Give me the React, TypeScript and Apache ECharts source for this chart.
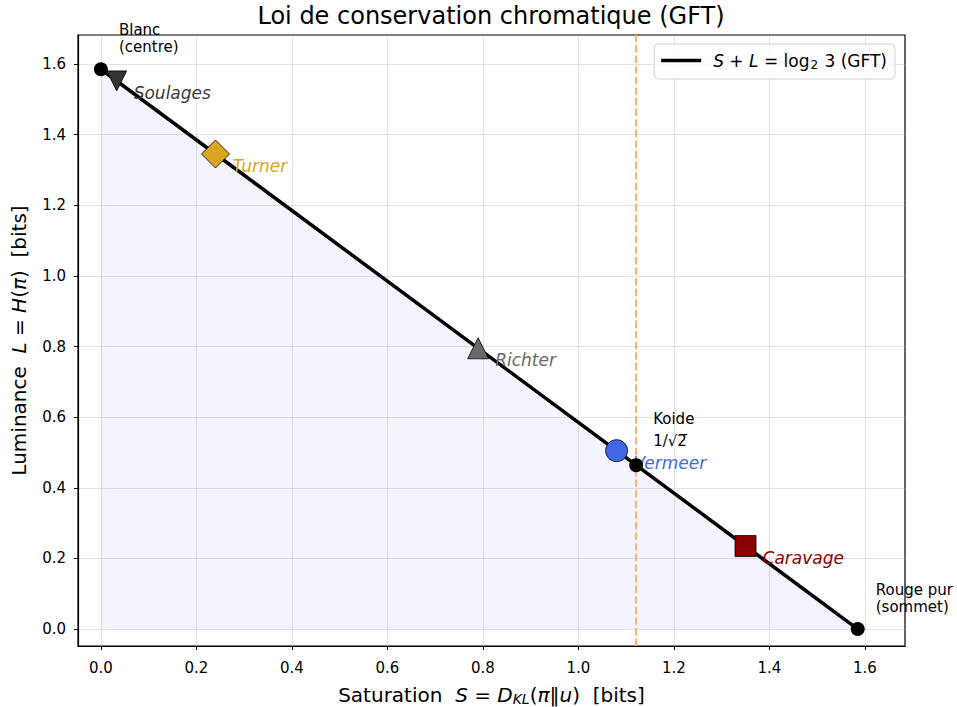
import React, { useEffect, useRef } from 'react';
import * as echarts from 'echarts';

// GFT conservation line: S + L = log2(3)
const lineS = [0, 1.585];
const lineL = [1.585, 0];

// painters on the line
const painters = ['Soulages', 'Turner', 'Richter', 'Vermeer', 'Caravage'];
const painterS = [0.033, 0.24, 0.79, 1.08, 1.35];
const painterL = [1.552, 1.345, 0.795, 0.505, 0.235];

// reference points
const refNames = ['Blanc\n(centre)', 'Koide\n1/√2̅', 'Rouge pur\n(sommet)'];
const refS = [0, 1.121, 1.585];
const refL = [1.585, 0.464, 0];

// Koide vertical marker
const koideS = 1.121;

// tick values
const xTicks = [0, 0.2, 0.4, 0.6, 0.8, 1.0, 1.2, 1.4, 1.6];
const yTicks = [0, 0.2, 0.4, 0.6, 0.8, 1.0, 1.2, 1.4, 1.6];

const FONT = '"DejaVu Sans", sans-serif';

const painterStyle: Record<string, any> = {
  Soulages: { symbol: 'triangle', rotate: 180, size: 20, color: '#333333', text: '#3a3a3a' },
  Turner: { symbol: 'diamond', rotate: 0, size: 28, color: '#DAA520', text: '#DAA520' },
  Richter: { symbol: 'triangle', rotate: 0, size: 21, color: '#696969', text: '#696969' },
  Vermeer: { symbol: 'circle', rotate: 0, size: 22, color: '#4169E1', text: '#4169E1' },
  Caravage: { symbol: 'rect', rotate: 0, size: 21, color: '#8B0000', text: '#8B0000' },
};

const refOffsets = [
  [18, -31],
  [17, -35],
  [18, -31],
];
const refLineHeights = [17, 22, 17];

const LEGEND_NAME = 'GFT';

export default function App() {
  const ref = useRef<HTMLDivElement>(null);
  useEffect(() => {
    document.body.style.margin = '0';
    const chart = echarts.init(ref.current!, null, { renderer: 'svg' });

    const axisCommon = (ticks: number[], margin: number) => ({
      type: 'value' as const,
      axisLine: { show: true, onZero: false, lineStyle: { color: '#000', width: 1.2 } },
      axisTick: {
        show: true,
        inside: false,
        length: 4,
        customValues: ticks,
        lineStyle: { color: '#000', width: 1 },
      },
      axisLabel: {
        show: true,
        customValues: ticks,
        formatter: (v: number) => v.toFixed(1),
        fontFamily: FONT,
        fontSize: 15,
        color: '#000',
        margin,
      },
      splitLine: { show: true, lineStyle: { color: '#b0b0b0', opacity: 0.35, width: 1 } },
      nameLocation: 'middle' as const,
    });

    chart.setOption({
      animation: false,
      backgroundColor: '#fff',
      textStyle: { fontFamily: FONT },
      graphic: [
        {
          type: 'text',
          x: 491,
          y: 16,
          style: {
            text: 'Loi de conservation chromatique (GFT)',
            textAlign: 'center',
            textVerticalAlign: 'middle',
            font: '24px "DejaVu Sans", sans-serif',
            fill: '#000',
          },
        },
      ],
      grid: {
        left: 78,
        top: 35,
        right: 52,
        bottom: 61,
        show: true,
        outerBoundsMode: 'none',
        containLabel: false,
        borderColor: '#000',
        borderWidth: 1.2,
        backgroundColor: 'transparent',
      },
      legend: {
        data: [{ name: LEGEND_NAME, icon: 'rect' }],
        right: 62,
        top: 44,
        orient: 'vertical',
        itemWidth: 40,
        itemHeight: 3.5,
        padding: [8, 8, 8, 7],
        backgroundColor: 'rgba(255,255,255,0.85)',
        borderColor: '#d0d0d0',
        borderWidth: 1,
        borderRadius: 4,
        formatter: () => '{i|S} + {i|L} = log{sub|2} 3 (GFT)',
        textStyle: {
          fontFamily: FONT,
          fontSize: 17,
          color: '#000',
          padding: [0, 0, 0, 7],
          rich: {
            i: { fontStyle: 'italic', fontSize: 17, fontFamily: FONT },
            sub: { fontSize: 12, fontFamily: FONT, padding: [9, 1, 0, 1] },
          },
        },
      },
      xAxis: {
        ...axisCommon(xTicks, 14),
        min: -0.048,
        max: 1.684,
        name: 'Saturation  {i|S} = {i|D}{sub|KL}({i|π}‖{i|u})  [bits]',
        nameGap: 37,
        nameTextStyle: {
          fontFamily: FONT,
          fontSize: 20,
          color: '#000',
          rich: {
            i: { fontStyle: 'italic', fontSize: 20, fontFamily: FONT },
            sub: { fontStyle: 'italic', fontSize: 14, fontFamily: FONT, padding: [9, 0, 0, 0] },
          },
        },
      },
      yAxis: {
        ...axisCommon(yTicks, 12),
        min: -0.048,
        max: 1.682,
        name: 'Luminance  {i|L} = {i|H}({i|π})  [bits]',
        nameGap: 49,
        nameTextStyle: {
          fontFamily: FONT,
          fontSize: 20,
          color: '#000',
          rich: {
            i: { fontStyle: 'italic', fontSize: 20, fontFamily: FONT },
          },
        },
      },
      series: [
        {
          type: 'line',
          name: 'koide-marker',
          data: [],
          z: 1,
          markLine: {
            silent: true,
            symbol: 'none',
            label: { show: false },
            lineStyle: { color: '#ffb26e', type: [7.4, 3.2], width: 2 },
            data: [{ xAxis: koideS }],
          },
        },
        {
          type: 'line',
          name: LEGEND_NAME,
          data: lineS.map((s, i) => [s, lineL[i]]),
          showSymbol: false,
          symbol: 'none',
          lineStyle: { color: '#000', width: 3.5 },
          itemStyle: { color: '#000' },
          areaStyle: { color: 'rgba(0,0,255,0.06)' },
          z: 2,
        },
        {
          type: 'scatter',
          name: 'painters',
          z: 4,
          data: painters.map((p, i) => {
            const st = painterStyle[p];
            return {
              value: [painterS[i], painterL[i]],
              name: p,
              symbol: st.symbol,
              symbolRotate: st.rotate,
              symbolSize: st.size,
              itemStyle: { color: st.color, borderColor: '#000', borderWidth: 0.8, opacity: 1 },
              label: {
                show: true,
                formatter: p,
                position: ['50%', '50%'],
                align: 'left',
                verticalAlign: 'middle',
                offset: [17, 12],
                color: st.text,
                opacity: 1,
                fontStyle: 'italic',
                fontSize: 17,
                fontFamily: FONT,
              },
            };
          }),
        },
        {
          type: 'scatter',
          name: 'refs',
          z: 5,
          symbolSize: 14,
          itemStyle: { color: '#000', opacity: 1 },
          data: refNames.map((n, i) => ({
            value: [refS[i], refL[i]],
            name: n,
            label: {
              show: true,
              formatter: n,
              position: ['50%', '50%'],
              align: 'left',
              verticalAlign: 'middle',
              offset: refOffsets[i],
              lineHeight: refLineHeights[i],
              color: '#000',
              opacity: 1,
              fontSize: 15,
              fontFamily: FONT,
            },
          })),
        },
      ],
    });
    return () => chart.dispose();
  }, []);
  return <div ref={ref} style={{ width: 957, height: 707 }} />;
}
